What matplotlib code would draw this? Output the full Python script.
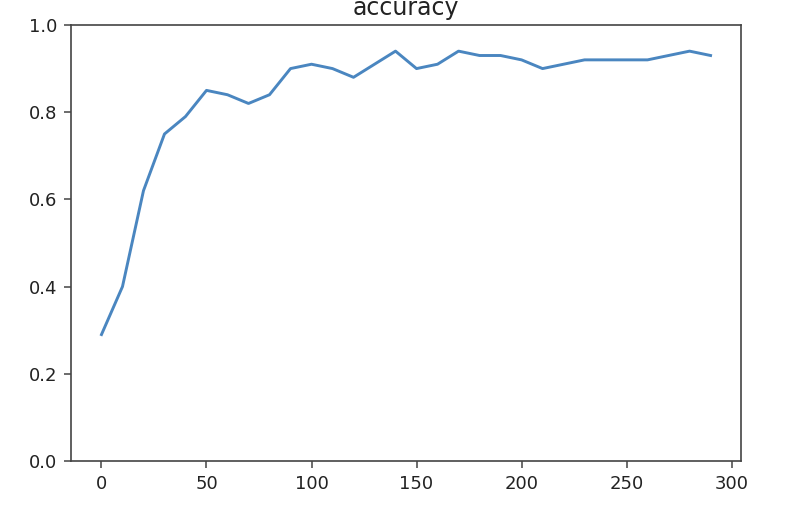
import matplotlib
matplotlib.use('Agg')
import matplotlib.pyplot as plt

plt.rcParams['font.family'] = ['DejaVu Sans']

epochs = list(range(0, 300, 10))
accuracy = [0.29, 0.40, 0.62, 0.75, 0.79, 0.85, 0.84, 0.82, 0.84, 0.90,
            0.91, 0.90, 0.88, 0.91, 0.94, 0.90, 0.91, 0.94, 0.93, 0.93,
            0.92, 0.90, 0.91, 0.92, 0.92, 0.92, 0.92, 0.93, 0.94, 0.93]

fig = plt.figure(figsize=(7.98, 5.14), dpi=100)
ax = fig.add_subplot(111)
fig.subplots_adjust(left=0.089, right=0.9286, top=0.9514, bottom=0.1031)

ax.plot(epochs, accuracy, color='#4a86c0', linewidth=2.1)
ax.set_ylim(0, 1.0)
ax.set_title('accuracy', fontsize=17, pad=7, color='#222222')
ax.tick_params(labelsize=13, colors='#444444', length=5, width=1.1, pad=5,
               labelcolor='#222222')
for s in ax.spines.values():
    s.set_color('#444444')
    s.set_linewidth(1.2)

fig.savefig('out.png', dpi=100)
